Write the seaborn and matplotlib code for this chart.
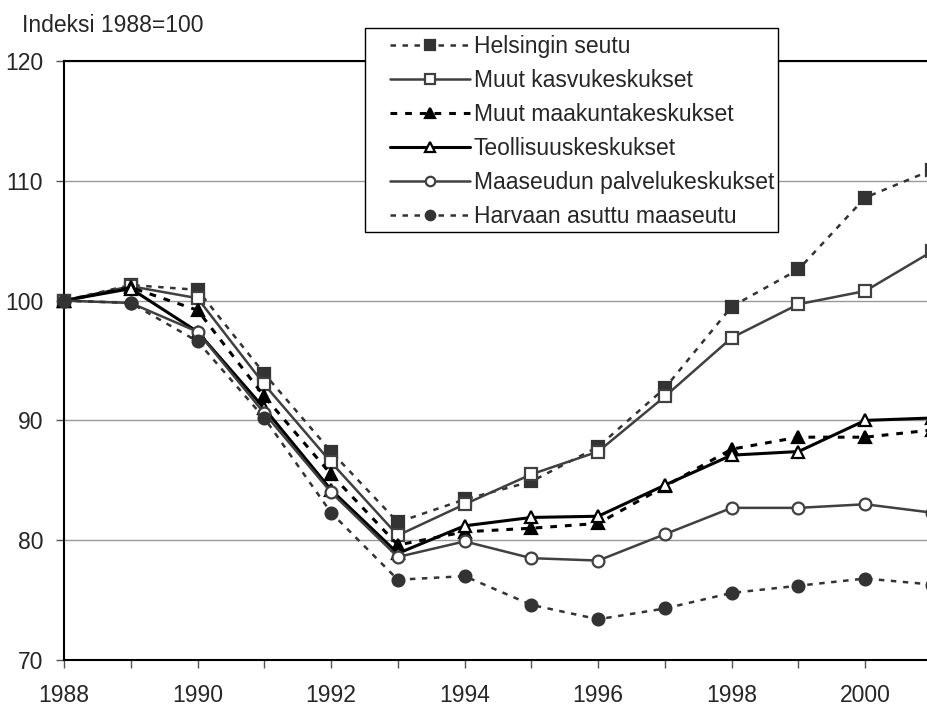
import pandas as pd
import matplotlib
matplotlib.use("Agg")
import matplotlib.pyplot as plt
import seaborn as sns
from matplotlib.ticker import MultipleLocator
from matplotlib.patches import Rectangle

years = list(range(1988, 2002))

helsinki = [100, 101.3, 100.9, 93.9, 87.4, 81.5, 83.4, 84.9, 87.8, 92.7, 99.5, 102.6, 108.6, 110.9]
kasvu = [100, 101.2, 100.2, 93.0, 86.5, 80.4, 83.0, 85.5, 87.4, 92.0, 96.9, 99.7, 100.8, 104.1]
maakunta = [100, 101.1, 99.2, 92.0, 85.5, 79.6, 80.7, 81.0, 81.4, 84.5, 87.6, 88.6, 88.6, 89.2]
teollisuus = [100, 101.0, 97.4, 91.0, 84.2, 78.9, 81.2, 81.9, 82.0, 84.6, 87.1, 87.4, 90.0, 90.2]
palvelu = [100, 99.8, 97.4, 90.6, 84.0, 78.6, 79.9, 78.5, 78.3, 80.5, 82.7, 82.7, 83.0, 82.3]
harvaan = [100, 99.8, 96.6, 90.2, 82.3, 76.7, 77.0, 74.6, 73.4, 74.3, 75.6, 76.2, 76.8, 76.3]

labels = ["Helsingin seutu", "Muut kasvukeskukset", "Muut maakuntakeskukset",
          "Teollisuuskeskukset", "Maaseudun palvelukeskukset", "Harvaan asuttu maaseutu"]
series = [helsinki, kasvu, maakunta, teollisuus, palvelu, harvaan]

# (line colour, dashed?, marker, face colour)
styles = [
    ("#333333", True, "s", "#333333"),
    ("#404040", False, "s", "white"),
    ("black", True, "^", "black"),
    ("black", False, "^", "white"),
    ("#404040", False, "o", "white"),
    ("#333333", True, "o", "#333333"),
]

FS = 16.5
W, H = 928, 706

sns.set_style("white")
plt.rcParams['font.family'] = ['Liberation Sans', 'DejaVu Sans']

fig = plt.figure(figsize=(W / 100, H / 100), dpi=100)
ax = fig.add_axes([64 / W, 46 / H, (932 - 64) / W, (660 - 61) / H])

for lab, vals, (col, dashed, mk, fc) in zip(labels, series, styles):
    df = pd.DataFrame({"year": years, "value": vals})
    lw = 2.2 if col == "black" else 1.8
    sns.lineplot(data=df, x="year", y="value", ax=ax, color=col, linewidth=lw,
                 marker=mk, markersize=9 if mk != "o" else 8.5,
                 markerfacecolor=fc, markeredgecolor=col if fc == "white" else fc,
                 markeredgewidth=1.6, label=lab, clip_on=False, zorder=3)
    if dashed:
        ax.lines[-1].set_dashes((2.2, 2.6))

ax.set_xlim(1988, 2001)
ax.set_ylim(70, 120)
ax.xaxis.set_major_locator(MultipleLocator(2))
ax.xaxis.set_minor_locator(MultipleLocator(1))
ax.yaxis.set_major_locator(MultipleLocator(10))
ax.set_xlabel("")
ax.set_ylabel("")
ax.grid(axis="y", color="#999999", linewidth=1)
ax.set_axisbelow(True)
for side in ["left", "bottom", "top"]:
    ax.spines[side].set_color("black")
    ax.spines[side].set_linewidth(1.5)
ax.spines["right"].set_visible(False)
ax.tick_params(axis="both", which="both", direction="out", length=6, width=1,
               color="#555555", labelsize=FS, bottom=True, left=True)
ax.tick_params(axis="x", pad=11)
ax.tick_params(axis="y", pad=9)

fig.text(22 / W, 1 - 25 / H, "Indeksi 1988=100", fontsize=FS, va="center", ha="left")

# legend frame drawn separately (Excel-style wide left padding)
frame = Rectangle((365 / W, 1 - 232 / H), (778 - 365) / W, (232 - 28) / H,
                  transform=fig.transFigure, facecolor="white", edgecolor="black",
                  linewidth=1.0, clip_on=False, zorder=4)
ax.add_patch(frame)

leg = ax.legend(loc="upper left", bbox_to_anchor=(390 / W, 1 - 35 / H),
                bbox_transform=fig.transFigure, frameon=False,
                fontsize=FS, handlelength=3.5, handletextpad=0.15,
                labelspacing=0.48, borderpad=0, borderaxespad=0, markerscale=0.8)
leg.set_zorder(5)

fig.savefig("out.png", dpi=100)
